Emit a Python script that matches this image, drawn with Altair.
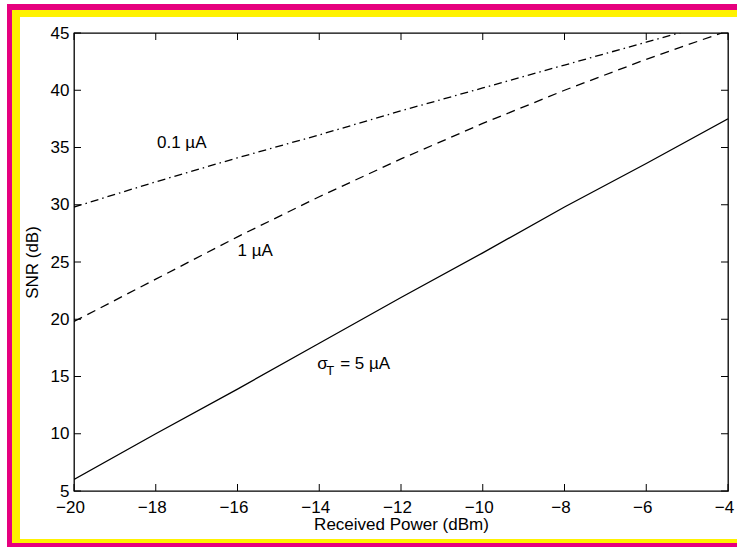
import altair as alt
import pandas as pd

# Received optical power (dBm) and SNR (dB) for three thermal-noise levels
power_dbm = [-20, -18, -16, -14, -12, -10, -8, -6, -4]
snr_sigma_5ua = [6.0, 10.0, 13.9, 17.9, 21.9, 25.8, 29.8, 33.6, 37.5]
snr_sigma_1ua = [19.8, 23.5, 27.2, 30.7, 34.0, 37.1, 40.0, 42.7, 45.2]
snr_sigma_01ua = [29.8, 32.0, 34.1, 36.1, 38.2, 40.2, 42.2, 44.2, 46.2]

x_tick_values = [-20, -18, -16, -14, -12, -10, -8, -6, -4]
y_tick_values = [5, 10, 15, 20, 25, 30, 35, 40, 45]

# curve labels: text, left x, middle y
label_text = ["0.1 µA", "1 µA"]
label_x = [-17.97, -16.0]
label_y = [35.4, 26.0]
sigma_label_x = -14.05
sigma_label_y = 16.1

FONT = "Liberation Sans"
W, H = 654, 458
PAD_L, PAD_T, PAD_R, PAD_B = 74, 33, 9, 57
TICK = 7

curves = pd.DataFrame({
    "power": power_dbm * 3,
    "snr": snr_sigma_5ua + snr_sigma_1ua + snr_sigma_01ua,
    "sigma": ["5"] * 9 + ["1"] * 9 + ["0.1"] * 9,
})

x_enc = alt.X(
    "power:Q",
    scale=alt.Scale(domain=[-20, -4], nice=False, zero=False),
    axis=alt.Axis(values=x_tick_values, title="Received Power (dBm)",
                  labelPadding=8, labelOffset=-4, labelFlush=False, titlePadding=1),
)
y_enc = alt.Y(
    "snr:Q",
    scale=alt.Scale(domain=[5, 45], nice=False, zero=False),
    axis=alt.Axis(values=y_tick_values, title="SNR (dB)", labelFlush=False,
                  labelPadding=5, titlePadding=9),
)

base = alt.Chart(curves)


def curve(sig, dash):
    mark_args = dict(color="black", strokeWidth=1.3, clip=True)
    if dash:
        mark_args["strokeDash"] = dash
    return (base.transform_filter(alt.datum.sigma == sig)
            .mark_line(**mark_args)
            .encode(x=x_enc, y=y_enc))


lines = [
    curve("5", None),
    curve("1", [9, 6]),
    curve("0.1", [8, 4, 1.5, 4]),
]

# inward ticks on all four sides of the box
xt = alt.Chart(pd.DataFrame({"power": x_tick_values}))
yt = alt.Chart(pd.DataFrame({"snr": y_tick_values}))
tick_style = dict(color="black", strokeWidth=1)
ticks = [
    xt.mark_rule(**tick_style).encode(x=x_enc, y=alt.value(H), y2=alt.value(H - TICK)),
    xt.mark_rule(**tick_style).encode(x=x_enc, y=alt.value(0), y2=alt.value(TICK)),
    yt.mark_rule(**tick_style).encode(y=y_enc, x=alt.value(0), x2=alt.value(TICK)),
    yt.mark_rule(**tick_style).encode(y=y_enc, x=alt.value(W), x2=alt.value(W - TICK)),
]

# curve annotations
ann = alt.Chart(pd.DataFrame({"power": label_x, "snr": label_y, "label": label_text}))
txt_style = dict(align="left", baseline="middle", font=FONT, fontSize=17, color="black")
annotations = [
    ann.mark_text(**txt_style).encode(x=x_enc, y=y_enc, text="label:N"),
]
sig = alt.Chart(pd.DataFrame({"power": [sigma_label_x], "snr": [sigma_label_y]}))
annotations += [
    sig.mark_text(text="σ", **txt_style).encode(x=x_enc, y=y_enc),
    sig.mark_text(text="T", dx=9, dy=7, align="left", baseline="middle",
                  font=FONT, fontSize=13, color="black").encode(x=x_enc, y=y_enc),
    sig.mark_text(text="= 5 µA", dx=23, **txt_style).encode(x=x_enc, y=y_enc),
]

# decorative double frame (open on the right), drawn as thick rules in page pixels
one = alt.Chart(pd.DataFrame({"k": [0]}))


def hband(x0, x1, y0, y1, color):
    return one.mark_rule(color=color, strokeWidth=y1 - y0, strokeCap="butt").encode(
        x=alt.value(x0 - PAD_L), x2=alt.value(x1 - PAD_L),
        y=alt.value((y0 + y1) / 2 - PAD_T),
    )


def vband(x0, x1, y0, y1, color):
    return one.mark_rule(color=color, strokeWidth=x1 - x0, strokeCap="butt").encode(
        x=alt.value((x0 + x1) / 2 - PAD_L),
        y=alt.value(y0 - PAD_T), y2=alt.value(y1 - PAD_T),
    )


MAGENTA, YELLOW = "#E6007E", "#FFF200"
frame = [
    hband(7, 737, 4, 10, MAGENTA),
    vband(7, 12, 4, 547, MAGENTA),
    hband(7, 737, 543, 547, MAGENTA),
    hband(12, 737, 10, 17, YELLOW),
    vband(12, 20, 10, 543, YELLOW),
    hband(12, 737, 539, 543, YELLOW),
]

chart = (
    alt.layer(*frame, *lines, *ticks, *annotations)
    .properties(
        width=W, height=H,
        autosize=alt.AutoSizeParams(type="none"),
        padding={"left": PAD_L, "top": PAD_T, "right": PAD_R, "bottom": PAD_B},
        background="white",
    )
    .configure_view(stroke="black", strokeWidth=1.3)
    .configure_axis(
        grid=False, domain=False, ticks=False, tickSize=0,
        labelFont=FONT, labelFontSize=17, labelColor="black",
        titleFont=FONT, titleFontSize=17, titleColor="black",
        titleFontWeight="normal",
    )
)

chart.save("out.html", embed_options={"renderer": "svg", "actions": False})
